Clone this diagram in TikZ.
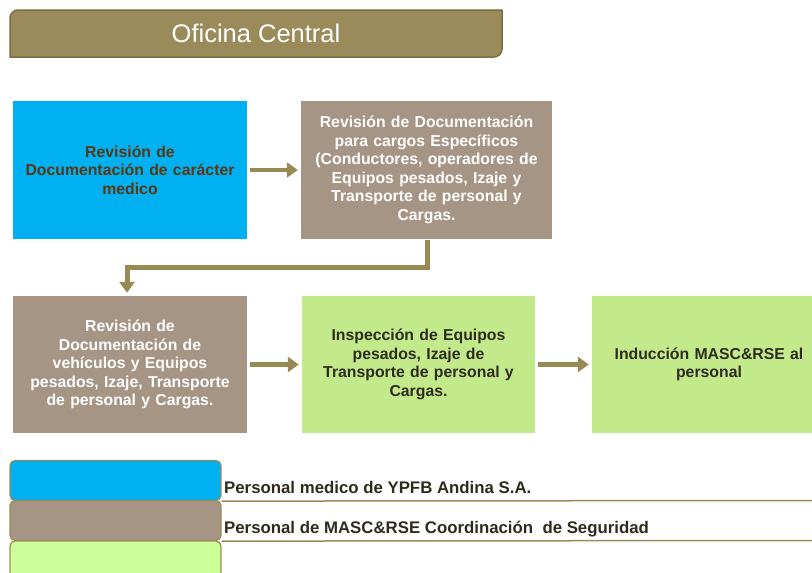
\documentclass[tikz,border=0pt]{standalone}
\usepackage{fontspec}
\setmainfont{Liberation Sans}
\usetikzlibrary{arrows.meta,positioning}
\definecolor{titleolive}{HTML}{9C8B5A}
\definecolor{titleedge}{HTML}{7B6C42}
\definecolor{medblue}{HTML}{00B0F0}
\definecolor{taupe}{HTML}{A69585}
\definecolor{lightgreen}{HTML}{C3EA8A}
\definecolor{legendgreen}{HTML}{CCFF99}
\definecolor{arrowolive}{HTML}{978A55}
\definecolor{darkbrown}{HTML}{5A3713}
\definecolor{darktext}{HTML}{2E2A1E}

\begin{document}
\begin{tikzpicture}[x=1pt,y=-1pt,
 every node/.style={inner sep=0pt,align=center},
 stepbox/.style={rectangle,minimum height=138pt,font=\bfseries\fontsize{15.8}{18.5}\selectfont},
 flow/.style={draw=arrowolive,line width=4.5pt,-{Triangle[width=15pt,length=11pt]},shorten <=3pt,shorten >=3pt},
 swatch/.style={rectangle,draw=titleolive,line width=1.2pt,rounded corners=5pt,minimum width=211pt,minimum height=40pt},
 legendtext/.style={anchor=base west,text=darktext,font=\bfseries\fontsize{16.8}{18}\selectfont},
 legendline/.style={draw=titleolive,line width=1.5pt},
]
\clip (0,0) rectangle (812,573);
% title bar
\filldraw[fill=titleolive,draw=titleedge,line width=1.5pt]
  (256,10) [sharp corners] -- (502,10) -- (502,33) [rounded corners=8pt] -- (502,57) -- (256,57)
  [sharp corners] -- (10,57) -- (10,33) [rounded corners=8pt] -- (10,10) -- cycle;
\node[text=white,font=\fontsize{25.5}{28}\selectfont] (title) at (256,33) {Oficina Central};

% steps
\node[stepbox,fill=medblue,text=darkbrown,minimum width=234pt,text width=230pt] (medico) at (130,170)
  {Revisión de\\Documentación de carácter\\medico};
\node[stepbox,fill=taupe,text=white,minimum width=251pt,text width=247pt] (cargos) at (426.5,170)
  {Revisión de Documentación\\para cargos Específicos\\(Conductores, operadores de\\Equipos pesados, Izaje y\\Transporte de personal y\\Cargas.};
\node[stepbox,fill=taupe,text=white,minimum width=234pt,minimum height=137pt,text width=230pt] (vehiculos) at (130,364.5)
  {Revisión de\\Documentación de\\vehículos y Equipos\\pesados, Izaje, Transporte\\de personal y Cargas.};
\node[stepbox,fill=lightgreen,text=darktext,minimum width=233pt,minimum height=137pt,text width=229pt] (inspeccion) at (418.5,364.5)
  {Inspección de Equipos\\pesados, Izaje de\\Transporte de personal y\\Cargas.};
\node[stepbox,fill=lightgreen,text=darktext,minimum width=234pt,minimum height=137pt,text width=230pt] (induccion) at (709,364.5)
  {Inducción MASC\&RSE al\\personal};

% connectors
\draw[flow] (medico) -- (cargos);
\draw[flow,line width=5pt,shorten <=1pt] ([xshift=1pt]cargos.south) -- ++(0,28) -| ([xshift=-3pt]vehiculos.north);
\draw[flow] (vehiculos) -- (inspeccion);
\draw[flow] (inspeccion) -- (induccion);

% legend
\node[swatch,fill=medblue] (swblue) at (115.5,480.5) {};
\node[swatch,fill=taupe] (swtaupe) at (115.5,520.5) {};
\node[swatch,fill=legendgreen] (swgreen) at (115.5,561) {};
\coordinate (edgeblue) at (812,500.5);
\coordinate (edgetaupe) at (812,540.5);
\draw[legendline] (swblue.south east) -- (edgeblue);
\draw[legendline] (swtaupe.south east) -- (edgetaupe);
\node[legendtext] (txtblue) at (224,493) {Personal medico de YPFB Andina S.A.};
\node[legendtext] (txttaupe) at (224,533) {Personal de MASC\&RSE Coordinación\ \ de Seguridad};
\end{tikzpicture}
\end{document}
